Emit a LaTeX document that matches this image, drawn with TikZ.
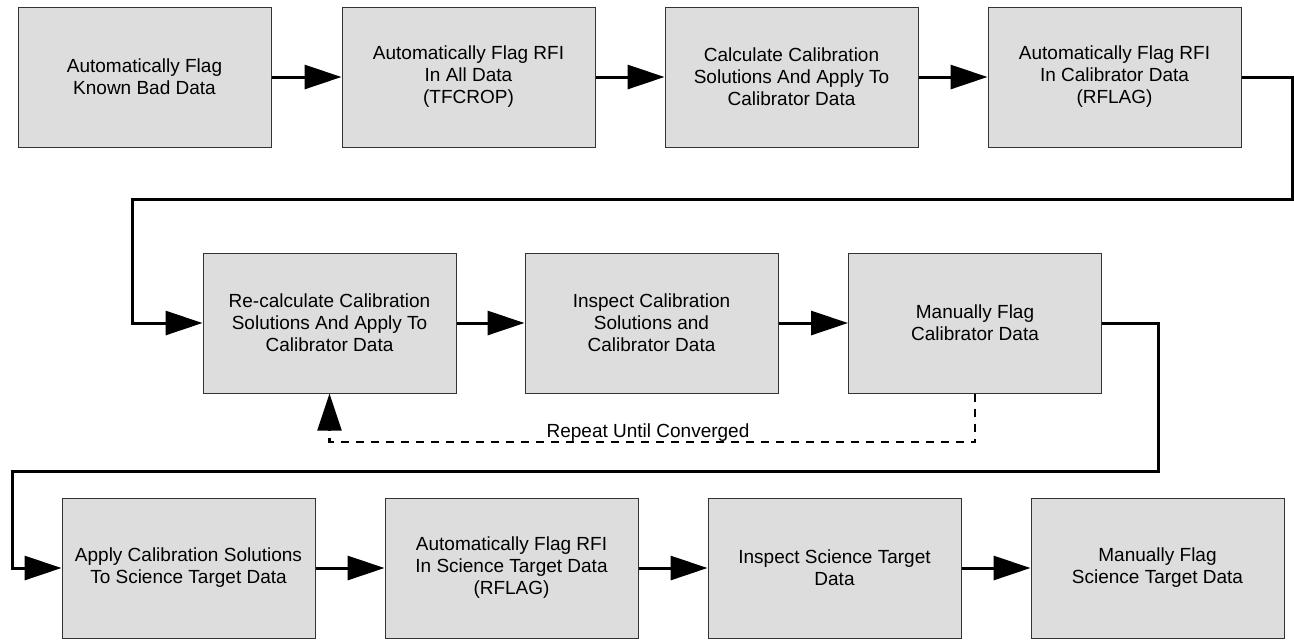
\documentclass[tikz,border=0pt]{standalone}
\usepackage{fontspec}
\setmainfont{Liberation Sans}
\usetikzlibrary{%
  arrows.meta,%
  positioning,% wg. " of "
  calc%
}
\definecolor{boxgray}{HTML}{DDDDDD}
\definecolor{edgegray}{HTML}{333333}

\begin{document}
\begin{tikzpicture}
[x=0.5pt, y=-0.5pt, font=\fontsize{9.5}{11}\selectfont, line width=1.5pt,
>={Triangle[length=18.5pt, width=12pt]},
stage/.style={rectangle, draw=edgegray, line width=0.5pt, fill=boxgray, align=center, inner sep=0pt, minimum width=126.5pt, minimum height=70pt},
feedback/.style={->, line width=1.1pt, dash pattern=on 4pt off 3.5pt}]

\useasboundingbox (0,0) rectangle (1294,639);

% first row
\node[stage] (flagknown) at (144.5,77) {Automatically Flag\\Known Bad Data};
\node[stage] (flagall) at (468.5,77) {Automatically Flag RFI\\In All Data\\(TFCROP)};
\node[stage] (calsol) at (791.5,77) {Calculate Calibration\\Solutions And Apply To\\Calibrator Data};
\node[stage] (flagcal) at (1114.5,77) {Automatically Flag RFI\\In Calibrator Data\\(RFLAG)};

% second row
\node[stage] (recal) at (329.5,323) {Re-calculate Calibration\\Solutions And Apply To\\Calibrator Data};
\node[stage] (inspcal) at (651.5,323) {Inspect Calibration\\Solutions and\\Calibrator Data};
\node[stage] (manualcal) at (975,323) {Manually Flag\\Calibrator Data};

% third row
\node[stage] (applysci) at (188.5,568) {Apply Calibration Solutions\\To Science Target Data};
\node[stage] (flagsci) at (511.5,568) {Automatically Flag RFI\\In Science Target Data\\(RFLAG)};
\node[stage] (inspsci) at (834.5,568) {Inspect Science Target\\Data};
\node[stage] (manualsci) at (1157.5,568) {Manually Flag\\Science Target Data};

\draw[->] (flagknown) -- (flagall);
\draw[->] (flagall) -- (calsol);
\draw[->] (calsol) -- (flagcal);
\draw[->] (recal) -- (inspcal);
\draw[->] (inspcal) -- (manualcal);
\draw[->] (applysci) -- (flagsci);
\draw[->] (flagsci) -- (inspsci);
\draw[->] (inspsci) -- (manualsci);

% wrap round to the next row
\coordinate (turn1) at (1292,199);
\coordinate (turn2) at (132,199);
\coordinate (turn3) at (1158,471);
\coordinate (turn4) at (12,471);
\draw[->] (flagcal.east) -| (turn1) -- (turn2) |- (recal.west);
\draw[->] (manualcal.east) -| (turn3) -- (turn4) |- (applysci.west);

% loop back
\coordinate (back) at (329.5,442);
\draw[feedback] (manualcal.south) |- (back) -- (recal.south);
\node[anchor=base] (repeat) at (648,437) {Repeat Until Converged};
\end{tikzpicture}
\end{document}
